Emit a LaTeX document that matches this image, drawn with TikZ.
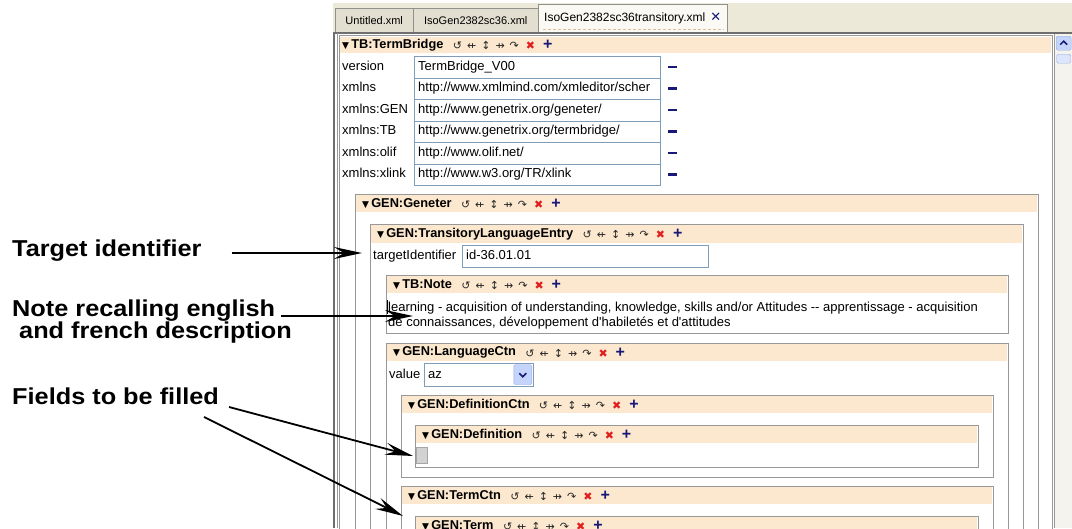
\documentclass[tikz,border=0pt]{standalone}
\usepackage{fontspec}
\setmainfont{Liberation Sans}
\newfontfamily\annofont[FakeStretch=1.1]{Liberation Sans}
\newfontfamily\iconfont{DejaVu Sans}
\usetikzlibrary{arrows.meta, positioning}
\definecolor{hdrpeach}{RGB}{252,232,206}
\definecolor{boxgrey}{RGB}{152,152,152}
\definecolor{framegrey}{RGB}{110,110,110}
\definecolor{fieldblue}{RGB}{127,157,185}
\definecolor{tabbeige}{RGB}{236,233,216}
\definecolor{tabdark}{RGB}{226,223,208}
\definecolor{tabactive}{RGB}{250,249,244}
\definecolor{tabedge}{RGB}{145,145,140}
\definecolor{focusdash}{RGB}{225,190,150}
\definecolor{navyicon}{RGB}{24,24,120}
\definecolor{redicon}{RGB}{225,30,30}
\definecolor{scrollgrey}{RGB}{244,243,238}
\definecolor{btnblue}{RGB}{196,212,250}
\definecolor{btnedge}{RGB}{150,172,225}

\begin{document}
\begin{tikzpicture}[
  x=1pt, y=-1pt,
  anno/.style={anchor=base west, inner sep=0pt, font=\annofont\bfseries\fontsize{23}{23}\selectfont},
  callout/.style={-{Stealth[length=28pt, width=12pt, inset=10pt]}, line width=1.8pt, black},
  tab/.style={draw=tabedge, fill=tabdark, anchor=north west, minimum height=24pt, inner sep=0pt, font=\fontsize{11}{13}\selectfont},
  elembox/.style={draw=boxgrey, line width=0.9pt},
  hdrbar/.style={fill=hdrpeach},
  hdrtext/.style={anchor=west, inner sep=0pt, font=\bfseries\fontsize{12.8}{14}\selectfont},
  icons/.style={anchor=west, inner sep=0pt, text=black!85, font=\iconfont\fontsize{11}{11}\selectfont,
    node contents={↺\hspace{5pt}⇷\hspace{5pt}↕\hspace{5pt}⇸\hspace{5pt}↷\hspace{7pt}\textcolor{redicon}{✖}\hspace{8pt}{\normalfont\bfseries\fontsize{16}{16}\selectfont\textcolor{navyicon}{+}}}},
  attr/.style={anchor=west, inner sep=0pt, text height=9.5pt, text depth=2.5pt, font=\fontsize{13}{15}\selectfont},
  field/.style={draw=fieldblue, fill=white, anchor=north west, text width=238pt, inner xsep=4pt, inner ysep=0pt, minimum height=21.5pt, align=left, text height=9.5pt, text depth=2.5pt, font=\fontsize{13}{15}\selectfont},
  minus/.style={fill=navyicon, inner sep=0pt, minimum width=9pt, minimum height=2.5pt}
]
\useasboundingbox (0,0) rectangle (1072,528);
\clip (0,0) rectangle (1072,528);
\fill[white] (0,0) rectangle (1072,528);

% Tab bar
\fill[tabbeige] (333,3) rectangle (1072,33);
\node[tab, minimum width=78pt] (tabUntitled) at (335,8) {Untitled.xml};
\node[tab, minimum width=125pt] (tabIso) at (413,8) {IsoGen2382sc36.xml};
\node[tab, fill=tabactive, minimum width=189pt, minimum height=29pt, font=\fontsize{12}{14}\selectfont] (tabTrans) at (538,4) {IsoGen2382sc36transitory.xml\hspace{5pt}{\iconfont\bfseries\fontsize{13}{13}\selectfont\textcolor{navyicon}{✕}}};
\draw[focusdash, dash pattern=on 3pt off 2pt] (543,29.5) -- (724,29.5);

% Window frame and scrollbar
\draw[framegrey, line width=1.2pt] (333,33) -- (1072,33);
\draw[framegrey, line width=1.2pt] (334,33) -- (334,528);
\draw[boxgrey] (336.8,33) -- (336.8,528);
\fill[scrollgrey] (1054,34) rectangle (1072,528);
\draw[boxgrey] (1054,34) -- (1054,528);
\node[draw=btnedge, fill=btnblue, rounded corners=2pt, minimum width=15pt, minimum height=14pt, anchor=north west, inner sep=0pt] (scrollup) at (1056,36) {};
\draw[navyicon, line width=1.5pt] ([xshift=-3.5pt,yshift=-1.5pt]scrollup.center) -- ([yshift=2pt]scrollup.center) -- ([xshift=3.5pt,yshift=-1.5pt]scrollup.center);
\node[draw=btnedge, fill=btnblue!60, rounded corners=1.5pt, minimum width=14pt, minimum height=9pt, anchor=north west, inner sep=0pt] (scrollthumb) at (1056.5,54) {};

% TB:TermBridge
\draw[elembox] (339,35) rectangle (1052,600);
\fill[hdrbar] (340,36.5) rectangle (1051,53);
\node[hdrtext] (hTermBridge) at (342,45) {{\iconfont\fontsize{9}{9}\selectfont ▼}\,TB:TermBridge};
\node[icons, right=9pt of hTermBridge, name=iTermBridge];

% Attributes
\node[attr] (lversion) at (342,66.75) {version};
\node[field] (fversion) at (414,56) {TermBridge\_V00};
\node[minus, right=7pt of fversion] (mversion) {};
\node[attr] (lxmlns) at (342,88.25) {xmlns};
\node[field] (fxmlns) at (414,77.5) {http://www.xmlmind.com/xmleditor/scher};
\node[minus, right=7pt of fxmlns] (mxmlns) {};
\node[attr] (lgen) at (342,109.75) {xmlns:GEN};
\node[field] (fgen) at (414,99) {http://www.genetrix.org/geneter/};
\node[minus, right=7pt of fgen] (mgen) {};
\node[attr] (ltb) at (342,131.25) {xmlns:TB};
\node[field] (ftb) at (414,120.5) {http://www.genetrix.org/termbridge/};
\node[minus, right=7pt of ftb] (mtb) {};
\node[attr] (lolif) at (342,152.75) {xmlns:olif};
\node[field] (folif) at (414,142) {http://www.olif.net/};
\node[minus, right=7pt of folif] (molif) {};
\node[attr] (lxlink) at (342,174.25) {xmlns:xlink};
\node[field] (fxlink) at (414,163.5) {http://www.w3.org/TR/xlink};
\node[minus, right=7pt of fxlink] (mxlink) {};

% GEN:Geneter
\draw[elembox] (355,194) rectangle (1038,600);
\fill[hdrbar] (356,195) rectangle (1037,212);
\node[hdrtext] (hGeneter) at (362,203.5) {{\iconfont\fontsize{9}{9}\selectfont ▼}\,GEN:Geneter};
\node[icons, right=9pt of hGeneter, name=iGeneter];

% GEN:TransitoryLanguageEntry
\draw[elembox] (370,224) rectangle (1023,600);
\fill[hdrbar] (371,225) rectangle (1022,243);
\node[hdrtext] (hEntry) at (377,234) {{\iconfont\fontsize{9}{9}\selectfont ▼}\,GEN:TransitoryLanguageEntry};
\node[icons, right=9pt of hEntry, name=iEntry];
\node[attr] (ltarget) at (373,255.5) {targetIdentifier};
\node[field] (ftarget) at (462,245) {id-36.01.01};

% TB:Note
\draw[elembox] (386,275) rectangle (1008,333);
\fill[hdrbar] (387,276) rectangle (1007,293);
\node[hdrtext] (hNote) at (393,284.5) {{\iconfont\fontsize{9}{9}\selectfont ▼}\,TB:Note};
\node[icons, right=9pt of hNote, name=iNote];
\node[attr] (notetext) at (388,308) {learning - acquisition of understanding, knowledge, skills and/or Attitudes -{}- apprentissage - acquisition};
\node[attr] (notetextb) at (388,323) {de connaissances, développement d\textquotesingle habiletés et d\textquotesingle attitudes};
\draw[black, line width=0.8pt] (387.5,300) -- (387.5,314);

% GEN:LanguageCtn
\draw[elembox] (386,343) rectangle (1008,600);
\fill[hdrbar] (387,344) rectangle (1007,361);
\node[hdrtext] (hLang) at (393,352.5) {{\iconfont\fontsize{9}{9}\selectfont ▼}\,GEN:LanguageCtn};
\node[icons, right=9pt of hLang, name=iLang];
\node[attr] (lvalue) at (389,375) {value};
\node[field, text width=101pt, minimum height=23pt] (fvalue) at (424,363) {az};
\node[draw=btnedge, fill=btnblue, rounded corners=1.5pt, minimum width=18pt, minimum height=20pt, anchor=north east, inner sep=0pt] (dropbtn) at (532,364.5) {};
\draw[navyicon, line width=1.6pt] ([xshift=-3.5pt,yshift=1.5pt]dropbtn.center) -- ([yshift=-2pt]dropbtn.center) -- ([xshift=3.5pt,yshift=1.5pt]dropbtn.center);

% GEN:DefinitionCtn
\draw[elembox] (401,395) rectangle (993,477);
\fill[hdrbar] (402,396) rectangle (992,413);
\node[hdrtext] (hDefCtn) at (408,404.5) {{\iconfont\fontsize{9}{9}\selectfont ▼}\,GEN:DefinitionCtn};
\node[icons, right=9pt of hDefCtn, name=iDefCtn];

% GEN:Definition
\draw[elembox] (415,425) rectangle (978,467);
\fill[hdrbar] (416,426) rectangle (977,443);
\node[hdrtext] (hDef) at (422,434.5) {{\iconfont\fontsize{9}{9}\selectfont ▼}\,GEN:Definition};
\node[icons, right=9pt of hDef, name=iDef];
\node[draw=gray!70, fill=gray!35, minimum width=11pt, minimum height=16pt, inner sep=0pt, anchor=north west] (placeholder) at (416,447) {};

% GEN:TermCtn
\draw[elembox] (401,486) rectangle (993,600);
\fill[hdrbar] (402,487) rectangle (992,504);
\node[hdrtext] (hTermCtn) at (408,495.5) {{\iconfont\fontsize{9}{9}\selectfont ▼}\,GEN:TermCtn};
\node[icons, right=9pt of hTermCtn, name=iTermCtn];

% GEN:Term
\draw[elembox] (415,516) rectangle (978,600);
\fill[hdrbar] (416,517) rectangle (977,534);
\node[hdrtext] (hTerm) at (422,525.5) {{\iconfont\fontsize{9}{9}\selectfont ▼}\,GEN:Term};
\node[icons, right=9pt of hTerm, name=iTerm];

% Annotations
\node[anno] (lbltarget) at (12,256.5) {Target identifier};
\node[anno] (lblnote) at (12,316) {Note recalling english};
\node[anno] (lblnoteb) at (19,338) {and french description};
\node[anno] (lblfields) at (12,404) {Fields to be filled};

\coordinate (tipTarget) at (362,253);
\coordinate (tipNote) at (413,316);
\coordinate (tipDef) at (413,456);
\coordinate (tipTerm) at (403,516);

\draw[callout] ([xshift=30pt, yshift=3.5pt]lbltarget.base east) -- (tipTarget);
\draw[callout] ([xshift=6pt, yshift=0pt]lblnote.base east) -- (tipNote);
\draw[callout] ([xshift=10pt, yshift=-3pt]lblfields.base east) -- (tipDef);
\draw[callout] ([xshift=-15pt, yshift=-13pt]lblfields.base east) -- (tipTerm);

\end{tikzpicture}
\end{document}
